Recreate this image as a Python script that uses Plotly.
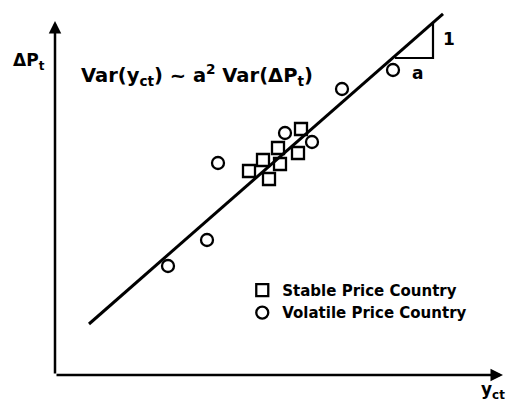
import plotly.graph_objects as go

# data in arbitrary units, origin at the axes corner
stable_x = [6.15, 5.575, 6.075, 5.2, 5.625, 4.85, 5.35]
stable_y = [6.15, 5.675, 5.55, 5.375, 5.275, 5.1, 4.9]
volatile_x = [8.45, 7.175, 5.75, 6.425, 4.075, 3.8, 2.825]
volatile_y = [7.625, 7.15, 6.05, 5.825, 5.3, 3.375, 2.725]

# regression line y = b0 + b1 * x
b0 = 1.275 - 0.876 * 0.85
b1 = 0.876
line_x = [0.85, 9.7]
line_y = [b0 + b1 * v for v in line_x]

# slope triangle
tri_x0, tri_x1 = 8.5, 9.45
tri_y0 = 7.925
tri_y1 = b0 + b1 * tri_x1

FONT = "DejaVu Sans"
BLACK = "black"
fig = go.Figure()

fig.add_trace(go.Scatter(x=line_x, y=line_y, mode="lines",
                         line=dict(color=BLACK, width=3), showlegend=False))
fig.add_trace(go.Scatter(x=[tri_x0, tri_x1, tri_x1], y=[tri_y0, tri_y0, tri_y1],
                         mode="lines", line=dict(color=BLACK, width=2.2),
                         showlegend=False))
fig.add_trace(go.Scatter(x=stable_x, y=stable_y, mode="markers",
                         name="<b>Stable Price Country</b>",
                         marker=dict(symbol="square-open", size=12, color=BLACK,
                                     line=dict(width=2.3))))
fig.add_trace(go.Scatter(x=volatile_x, y=volatile_y, mode="markers",
                         name="<b>Volatile Price Country</b>",
                         marker=dict(symbol="circle-open", size=12, color=BLACK,
                                     line=dict(width=2.3))))

txt = dict(size=17, family=FONT, color=BLACK)
annotations = [
    # axes with arrows
    dict(x=0, y=8.85, ax=0, ay=0, xref="x", yref="y", axref="x", ayref="y",
         showarrow=True, arrowhead=2, arrowsize=1, arrowwidth=2.5, arrowcolor=BLACK, text=""),
    dict(x=11.2, y=0, ax=0, ay=0, xref="x", yref="y", axref="x", ayref="y",
         showarrow=True, arrowhead=2, arrowsize=1, arrowwidth=2.5, arrowcolor=BLACK, text=""),
    dict(x=-0.2, y=7.85, xref="x", yref="y", xanchor="right", showarrow=False,
         text="<b>ΔP<sub>t</sub></b>", font=txt),
    dict(x=10.95, y=-0.38, xref="x", yref="y", xanchor="center", showarrow=False,
         text="<b>y<sub>ct</sub></b>", font=txt),
    dict(x=0.6, y=7.5, xref="x", yref="y", xanchor="left", showarrow=False,
         text="<b>Var(y<sub>ct</sub>) ~ a<sup>2</sup> Var(ΔP<sub>t</sub>)</b>",
         font=dict(size=19.5, family=FONT, color=BLACK)),
    dict(x=9.85, y=8.4, xref="x", yref="y", xanchor="center", showarrow=False,
         text="<b>1</b>", font=txt),
    dict(x=9.05, y=7.55, xref="x", yref="y", xanchor="center", showarrow=False,
         text="<b>a</b>", font=txt),
]

fig.update_layout(
    width=521, height=401,
    margin=dict(l=0, r=0, t=0, b=0),
    paper_bgcolor="white", plot_bgcolor="white",
    xaxis=dict(range=[-1.375, 11.65], visible=False),
    yaxis=dict(range=[-0.65, 9.375], visible=False),
    annotations=annotations,
    legend=dict(x=0.465, y=0.317, xanchor="left", yanchor="top",
                bgcolor="rgba(0,0,0,0)", font=dict(size=15, family=FONT, color=BLACK),
                itemwidth=30, tracegroupgap=0),
)

fig.write_html("out.html", config={"displayModeBar": False},
               post_script="document.body.style.margin='0';")
